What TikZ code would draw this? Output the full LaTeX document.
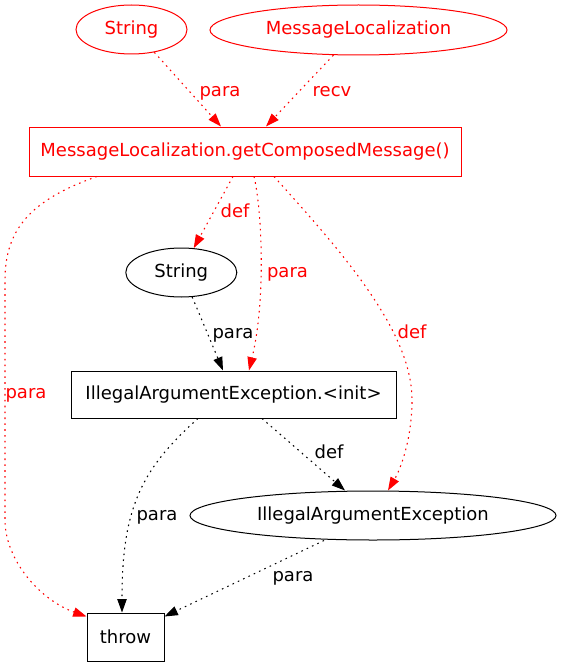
\documentclass[tikz,border=0pt]{standalone}
\usepackage{fontspec}
\setmainfont{DejaVu Sans}
\usetikzlibrary{arrows.meta,shapes.geometric,calc}
\begin{document}
\begin{tikzpicture}[x=0.75pt,y=-0.75pt,
  every node/.style={font=\fontsize{13.5}{16}\selectfont},
  ell/.style={ellipse,draw,line width=0.75pt,inner sep=0pt},
  box/.style={rectangle,draw,line width=0.75pt,inner sep=0pt},
  redc/.style={draw=red,text=red},
  conn/.style={line width=0.8pt,dash pattern=on 1.2pt off 3.2pt,-{Triangle[length=10pt,width=7pt]}},
  redconn/.style={conn,red},
  lbl/.style={inner sep=0pt},
]
\useasboundingbox (0,0) rectangle (561,667);
% nodes
\node[ell,redc,minimum width=83.25pt,minimum height=36.75pt] (s1) at (131.5,29.5) {String};
\node[ell,redc,minimum width=222.75pt,minimum height=37.5pt] (ml) at (358.5,30) {MessageLocalization};
\node[box,redc,minimum width=324pt,minimum height=36.75pt] (gcm) at (245,151.5) {MessageLocalization.getComposedMessage()};
\node[ell,minimum width=83.25pt,minimum height=36.75pt] (s2) at (181.3,272.5) {String};
\node[box,minimum width=243.75pt,minimum height=35.25pt] (init) at (233.5,394.5) {IllegalArgumentException.<init>};
\node[ell,minimum width=274.5pt,minimum height=36.75pt] (iae) at (373,515.5) {IllegalArgumentException};
\node[box,minimum width=57.75pt,minimum height=36pt] (thr) at (125.5,637) {throw};
% connectors
\draw[redconn] (s1.-45) -- ($(gcm.north)+(-24,0)$);
\draw[redconn] (ml.-135) -- ($(gcm.north)+(21,0)$);
\draw[redconn] ($(gcm.south)+(-12,0)$) -- (s2.63);
\draw[redconn] ($(gcm.south)+(9,0)$) .. controls (262,210) and (266,300) .. ($(init.north)+(15.5,0)$);
\draw[redconn] ($(gcm.south)+(-148,0)$) .. controls (30,200) and (5,230) .. (5,280) -- (5,520) .. controls (5,560) and (40,600) .. ($(thr.north west)+(0,4)$);
\draw[redconn] ($(gcm.south)+(29,0)$) .. controls (340,250) and (412,330) .. (412,400) .. controls (412,440) and (400,470) .. ($(iae.north)+(15,0)$);
\draw[conn] (s2.-66) -- ($(init.north)+(-10.5,0)$);
\draw[conn] ($(init.south)+(-35.5,0)$) .. controls (140,470) and (122,510) .. ($(thr.north)+(-3.5,0)$);
\draw[conn] ($(init.south)+(28.5,0)$) -- ($(iae.north)+(-28,0)$);
\draw[conn] ($(iae.south)+(-49,0)$) -- ($(thr.north east)+(0,4)$);
% labels
\node[lbl,red] (l1) at (220,93) {para};
\node[lbl,red] (l2) at (332,92) {recv};
\node[lbl,red] (l3) at (235,211) {def};
\node[lbl,red] (l4) at (287.5,274) {para};
\node[lbl,red] (l5) at (412,332) {def};
\node[lbl,red] (l6) at (26,395) {para};
\node[lbl] (l7) at (233,335) {para};
\node[lbl] (l8) at (329,452) {def};
\node[lbl] (l9) at (157,517) {para};
\node[lbl] (l10) at (293,578) {para};
\end{tikzpicture}
\end{document}
